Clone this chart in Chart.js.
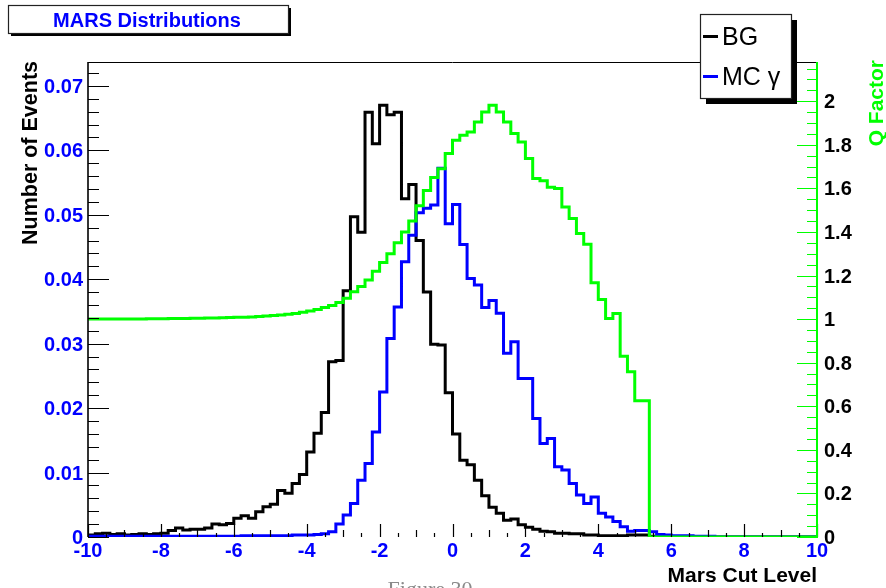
<!DOCTYPE html>
<html>
<head>
<meta charset="utf-8">
<script src="https://cdn.jsdelivr.net/npm/chart.js@4.4.1/dist/chart.umd.min.js"></script>
<style>
  html, body { margin: 0; padding: 0; background: #fff; }
  #wrap { position: relative; width: 886px; height: 588px; }
  canvas { display: block; }
</style>
</head>
<body>
<div id="wrap"><canvas id="c" width="886" height="588"></canvas></div>
<script>
// Histogram binning: 100 bins of width 0.2 between -10 and 10
const xMin = -10;
const xMax = 10;
const binWidth = 0.2;

// Background distribution (normalised), one value per bin
const bg = [
  0.0003, 0.0005, 0.0006, 0.0004, 0.0005, 0.0003, 0.0004, 0.0005, 0.0004, 0.0005,
  0.0006, 0.0010, 0.0014, 0.0011, 0.0012, 0.0012, 0.0014, 0.0020, 0.0019, 0.0021,
  0.0029, 0.0033, 0.0029, 0.0039, 0.0047, 0.0051, 0.0072, 0.0068, 0.0083, 0.0097,
  0.0132, 0.0161, 0.0193, 0.0272, 0.0274, 0.0382, 0.0497, 0.0473, 0.0659, 0.0610,
  0.0670, 0.0655, 0.0659, 0.0525, 0.0547, 0.0460, 0.0380, 0.0299, 0.0298, 0.0224,
  0.0160, 0.0119, 0.0112, 0.0088, 0.0064, 0.0046, 0.0037, 0.0026, 0.0028, 0.0019,
  0.0015, 0.0012, 0.0009, 0.0008, 0.0006, 0.0006, 0.0005, 0.0005, 0.0003, 0.0003,
  0.0002, 0.0002, 0.0002, 0.0002, 0.0003, 0.0003, 0.0003, 0.0001, 0.0001, 0.0001,
  0, 0, 0, 0, 0, 0, 0, 0, 0, 0,
  0, 0, 0, 0, 0, 0, 0, 0, 0, 0
];

// Monte Carlo gamma distribution (normalised), one value per bin
const mcGamma = [
  0.0001, 0.0001, 0.0001, 0.0001, 0.0001, 0.0001, 0.0001, 0.0001, 0.0001, 0.0001,
  0.0001, 0.0001, 0.0001, 0.0001, 0.0001, 0.0001, 0.0001, 0.0001, 0.0001, 0.0001,
  0.0001, 0.0002, 0.0002, 0.0002, 0.0002, 0.0002, 0.0002, 0.0002, 0.0003, 0.0003,
  0.0003, 0.0004, 0.0005, 0.0008, 0.0020, 0.0034, 0.0052, 0.0088, 0.0114, 0.0163,
  0.0225, 0.0308, 0.0357, 0.0427, 0.0468, 0.0503, 0.0510, 0.0515, 0.0572, 0.0486,
  0.0516, 0.0454, 0.0401, 0.0391, 0.0356, 0.0367, 0.0347, 0.0285, 0.0303, 0.0246,
  0.0246, 0.0184, 0.0145, 0.0153, 0.0109, 0.0104, 0.0083, 0.0065, 0.0052, 0.0062,
  0.0037, 0.0031, 0.0024, 0.0016, 0.0009, 0.0010, 0.0010, 0.0008, 0.0004, 0.0003,
  0.0002, 0.0002, 0.0002, 0.0001, 0.0001, 0.0001, 0, 0, 0, 0,
  0, 0, 0, 0, 0, 0, 0, 0, 0, 0
];

// Quality factor per cut level (right axis)
const qFactor = [
  1.000, 1.000, 1.000, 1.000, 1.001, 1.001, 1.001, 1.001, 1.002, 1.002,
  1.002, 1.003, 1.003, 1.003, 1.004, 1.004, 1.005, 1.005, 1.006, 1.007,
  1.008, 1.009, 1.010, 1.012, 1.014, 1.016, 1.019, 1.022, 1.026, 1.031,
  1.037, 1.044, 1.053, 1.063, 1.076, 1.096, 1.125, 1.150, 1.180, 1.220,
  1.260, 1.300, 1.350, 1.400, 1.450, 1.520, 1.590, 1.650, 1.690, 1.760,
  1.821, 1.844, 1.859, 1.905, 1.951, 1.982, 1.951, 1.905, 1.852, 1.813,
  1.737, 1.645, 1.635, 1.605, 1.600, 1.515, 1.462, 1.393, 1.344, 1.167,
  1.090, 1.003, 1.026, 0.830, 0.758, 0.625, 0.625, 0, 0, 0,
  0, 0, 0, 0, 0, 0, 0, 0, 0, 0,
  0, 0, 0, 0, 0, 0, 0, 0, 0, 0
];

// Axis tick labels
const xTickValues = [-10, -8, -6, -4, -2, 0, 2, 4, 6, 8, 10];
const yTickValues = [0, 0.01, 0.02, 0.03, 0.04, 0.05, 0.06, 0.07];
const yTickLabels = ['0', '0.01', '0.02', '0.03', '0.04', '0.05', '0.06', '0.07'];
const qTickValues = [0, 0.2, 0.4, 0.6, 0.8, 1, 1.2, 1.4, 1.6, 1.8, 2];
const qTickLabels = ['0', '0.2', '0.4', '0.6', '0.8', '1', '1.2', '1.4', '1.6', '1.8', '2'];

// Axis ranges
const yMaxEvents = 0.0737;
const yMaxQ = 2.18;

// Turn per-bin contents into step points at the bin edges
function histPoints(values) {
  const pts = values.map((v, i) => ({ x: +(xMin + i * binWidth).toFixed(2), y: v }));
  pts.push({ x: xMax, y: values[values.length - 1] });
  return pts;
}

const FONT = '"Liberation Sans", Arial, Helvetica, sans-serif';
const BLUE = '#0000ff';
const GREEN = '#00ff00';

function shadowBox(ctx, x, y, w, h, off) {
  ctx.fillStyle = '#000';
  ctx.fillRect(x + off, y + off, w, h);
  ctx.fillStyle = '#fff';
  ctx.fillRect(x, y, w, h);
  ctx.strokeStyle = '#222';
  ctx.lineWidth = 1.2;
  ctx.strokeRect(x + 0.5, y + 0.5, w, h);
}

const rootAxes = {
  id: 'rootAxes',
  afterDatasetsDraw(chart) {
    const { ctx, chartArea: a, scales } = chart;
    const sx = scales.x, sy = scales.y, sq = scales.y2;
    ctx.save();

    // Frame: top and left black, right axis green
    ctx.lineCap = 'butt';
    ctx.strokeStyle = '#000';
    ctx.lineWidth = 1;
    ctx.beginPath();
    ctx.moveTo(a.left, a.top + 0.5);
    ctx.lineTo(a.right, a.top + 0.5);
    ctx.stroke();
    ctx.lineWidth = 1.6;
    ctx.beginPath();
    ctx.moveTo(a.left, a.top);
    ctx.lineTo(a.left, a.bottom);
    ctx.stroke();

    // Left axis ticks (major 0.01, minor 0.002), pointing inward
    ctx.lineWidth = 1.2;
    ctx.beginPath();
    for (let i = 0; i * 0.002 <= yMaxEvents + 1e-9; i++) {
      const py = Math.round(sy.getPixelForValue(i * 0.002)) + 0.5;
      const len = (i % 5 === 0) ? 21 : 11;
      ctx.moveTo(a.left, py);
      ctx.lineTo(a.left + len, py);
    }
    ctx.stroke();

    // Bottom axis ticks: 2 units major, odd integers medium, halves small
    ctx.beginPath();
    for (let i = 0; i <= 40; i++) {
      const px = Math.round(sx.getPixelForValue(xMin + i * 0.5)) + 0.5;
      const len = (i % 4 === 0) ? 13 : (i % 2 === 0 ? 7 : 4);
      ctx.moveTo(px, a.bottom);
      ctx.lineTo(px, a.bottom - len);
    }
    ctx.stroke();

    // Right (Q factor) axis in green, ticks pointing inward
    ctx.strokeStyle = GREEN;
    ctx.lineWidth = 1.2;
    ctx.beginPath();
    for (let i = 0; i * 0.05 <= yMaxQ + 1e-9; i++) {
      const py = Math.round(sq.getPixelForValue(i * 0.05)) + 0.5;
      const len = (i % 4 === 0) ? 20 : 10;
      ctx.moveTo(a.right, py);
      ctx.lineTo(a.right - len, py);
    }
    ctx.stroke();
    ctx.lineWidth = 2;
    ctx.beginPath();
    ctx.moveTo(a.right, a.top);
    ctx.lineTo(a.right, a.bottom + 1);
    ctx.stroke();

    // Tick labels
    ctx.font = 'bold 20px ' + FONT;
    ctx.textBaseline = 'alphabetic';
    ctx.fillStyle = BLUE;
    ctx.textAlign = 'right';
    yTickValues.forEach((v, i) => {
      ctx.fillText(yTickLabels[i], a.left - 5, sy.getPixelForValue(v) + 7);
    });
    ctx.textAlign = 'center';
    xTickValues.forEach(v => {
      ctx.fillText(String(v), sx.getPixelForValue(v), a.bottom + 20);
    });
    ctx.fillStyle = '#000';
    ctx.textAlign = 'left';
    qTickValues.forEach((v, i) => {
      ctx.fillText(qTickLabels[i], a.right + 7, sq.getPixelForValue(v) + 7);
    });

    // Axis titles
    ctx.font = 'bold 21px ' + FONT;
    ctx.textAlign = 'right';
    ctx.fillStyle = '#000';
    ctx.fillText('Mars Cut Level', a.right, 582);

    ctx.save();
    ctx.translate(37, a.top - 1);
    ctx.rotate(-Math.PI / 2);
    ctx.font = 'bold 21.5px ' + FONT;
    ctx.textAlign = 'right';
    ctx.fillText('Number of Events', 0, 0);
    ctx.restore();

    ctx.save();
    ctx.translate(883, a.top - 2);
    ctx.rotate(-Math.PI / 2);
    ctx.font = 'bold 21px ' + FONT;
    ctx.textAlign = 'right';
    ctx.fillStyle = GREEN;
    ctx.fillText('Q Factor', 0, 0);
    ctx.restore();

    // Title box
    shadowBox(ctx, 8, 5, 280, 28, 3);
    ctx.font = 'bold 20px ' + FONT;
    ctx.fillStyle = BLUE;
    ctx.textAlign = 'center';
    ctx.fillText('MARS Distributions', 147, 27);

    // Legend box
    shadowBox(ctx, 700, 14, 91, 84, 6);
    ctx.lineWidth = 3;
    ctx.strokeStyle = '#000';
    ctx.beginPath();
    ctx.moveTo(703, 36.5);
    ctx.lineTo(718, 36.5);
    ctx.stroke();
    ctx.strokeStyle = BLUE;
    ctx.beginPath();
    ctx.moveTo(703, 76.5);
    ctx.lineTo(718, 76.5);
    ctx.stroke();
    ctx.font = '25px ' + FONT;
    ctx.fillStyle = '#000';
    ctx.textAlign = 'left';
    ctx.fillText('BG', 722, 45);
    ctx.fillText('MC \u03b3', 722, 85);

    // Figure caption, cut by the bottom edge
    ctx.font = '22px "Liberation Serif", "Times New Roman", serif';
    ctx.fillStyle = '#8a8a8a';
    ctx.textAlign = 'center';
    ctx.textBaseline = 'top';
    ctx.fillText('Figure 30', 430, 579);

    ctx.restore();
  }
};

// Histogram outline: horizontal at each bin content, vertical at bin edges
const common = {
  stepped: 'before',
  fill: false,
  pointRadius: 0,
  borderWidth: 3,
  borderJoinStyle: 'miter',
  borderCapStyle: 'butt',
  tension: 0
};

new Chart(document.getElementById('c'), {
  type: 'line',
  data: {
    datasets: [
      Object.assign({ label: 'Q Factor', data: histPoints(qFactor), borderColor: GREEN, yAxisID: 'y2', order: 0 }, common),
      Object.assign({ label: 'MC \u03b3', data: histPoints(mcGamma), borderColor: BLUE, yAxisID: 'y', order: 1 }, common),
      Object.assign({ label: 'BG', data: histPoints(bg), borderColor: '#000', yAxisID: 'y', order: 2 }, common)
    ]
  },
  options: {
    responsive: false,
    devicePixelRatio: 1,
    animation: false,
    layout: { padding: { left: 88, right: 69, top: 62, bottom: 51 } },
    plugins: { legend: { display: false }, tooltip: { enabled: false }, title: { display: false } },
    scales: {
      x: { type: 'linear', min: xMin, max: xMax, display: false },
      y: { type: 'linear', min: 0, max: yMaxEvents, display: false },
      y2: { type: 'linear', position: 'right', min: 0, max: yMaxQ, display: false }
    }
  },
  plugins: [rootAxes]
});
</script>
</body>
</html>
